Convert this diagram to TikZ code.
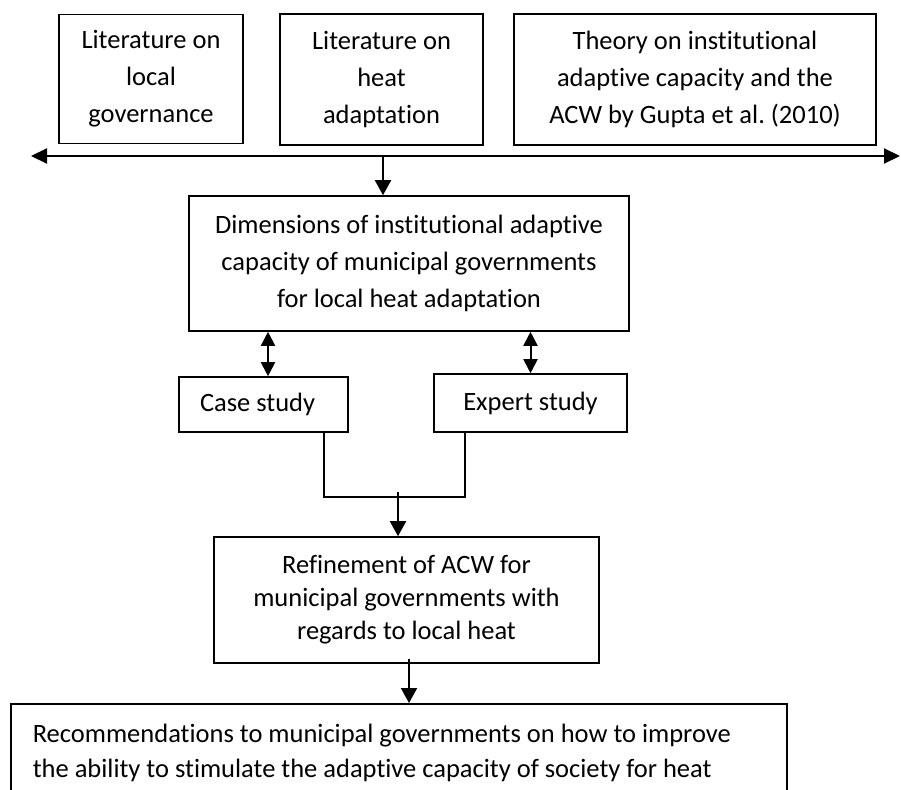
\documentclass[tikz,border=0pt]{standalone}
\usepackage{fontspec}
\setmainfont{Carlito}[Ligatures=NoCommon]
\usetikzlibrary{arrows.meta}
\tikzstyle{box} = [draw, line width=1.6pt, inner sep=0pt, text centered, align=center]
\tikzstyle{arr} = [line width=2pt, -{Triangle[length=15pt, width=16pt]}]
\tikzstyle{biarr} = [line width=2pt, {Triangle[length=14pt, width=14pt]}-{Triangle[length=14pt, width=14pt]}]

\begin{document}
\begin{tikzpicture}[x=1pt, y=-1pt, font=\fontsize{26.5}{37}\selectfont]
        \useasboundingbox (0,0) rectangle (901,789);
        \clip (0,0) rectangle (901,789);

        % top row
        \node[box, minimum width=184, minimum height=129] (11) at (151,79) {Literature on\\local\\governance};
        \node[box, minimum width=203, minimum height=131] (12) at (381.5,79.5) {Literature on\\heat\\adaptation};
        \node[box, minimum width=362, minimum height=131] (13) at (695,79.5) {Theory on institutional\\adaptive capacity and the\\ACW by Gupta et al.\ (2010)};

        \coordinate (L) at (31,156);
        \coordinate (R) at (900,156);
        \coordinate (m) at (383,156);

        \node[box, minimum width=440, minimum height=135] (21) at (409,263.5) {Dimensions of institutional adaptive\\capacity of municipal governments\\for local heat adaptation};

        \node[box, minimum width=169, minimum height=55, align=flush left, text width=127, inner xsep=21] (31) at (263.5,404.5) {Case study};
        \node[box, minimum width=193, minimum height=58] (32) at (530.5,403) {Expert study};

        \coordinate (j) at (398,497);

        \node[box, minimum width=385, minimum height=126, font=\fontsize{26.5}{33}\selectfont] (41) at (406.5,600) {Refinement of ACW for\\municipal governments with\\regards to local heat};

        \node[box, anchor=north west, align=flush left, text width=732, inner xsep=22, inner ysep=20, font=\fontsize{26.5}{35}\selectfont] (51) at (10,703) {Recommendations to municipal governments on how to improve\\the ability to stimulate the adaptive capacity of society for heat};

        % connectors
        \draw[line width=2pt, {Triangle[length=16pt, width=15pt]}-{Triangle[length=16pt, width=15pt]}] (L) -- (R);
        \draw[arr] (m) -- (m |- 21.north);

        \coordinate (c1) at ([xshift=4.5pt]31.north);
        \draw[biarr] (c1 |- 21.south) -- (c1);
        \draw[biarr] (32.north |- 21.south) -- (32.north);

        \draw[line width=1.6pt] ([xshift=60.5pt]31.south) |- (j) -| ([xshift=-65.5pt]32.south);
        \draw[arr] ([yshift=5pt]j) -- (j |- 41.north);

        \coordinate (k) at ([xshift=2.5pt]41.south);
        \draw[arr] ([yshift=5pt]k) -- (k |- 51.north);
    \end{tikzpicture}
\end{document}
